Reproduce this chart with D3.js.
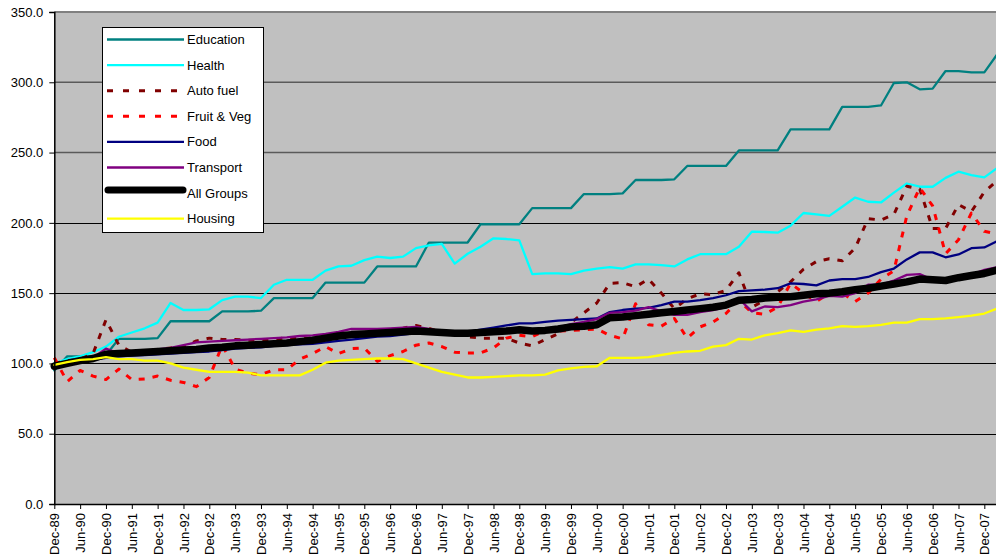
<!DOCTYPE html>
<html><head><meta charset="utf-8">
<script src="https://cdn.jsdelivr.net/npm/d3@7"></script>
<style>
body{margin:0;background:#fff}
text{font-family:Arial,"Liberation Sans",sans-serif}
</style>
</head><body>
<svg id="chart" width="996" height="560"></svg>
<script>
const quarters = ["Dec-89",
"Mar-90","Jun-90","Sep-90","Dec-90","Mar-91","Jun-91","Sep-91","Dec-91",
"Mar-92","Jun-92","Sep-92","Dec-92","Mar-93","Jun-93","Sep-93","Dec-93",
"Mar-94","Jun-94","Sep-94","Dec-94","Mar-95","Jun-95","Sep-95","Dec-95",
"Mar-96","Jun-96","Sep-96","Dec-96","Mar-97","Jun-97","Sep-97","Dec-97",
"Mar-98","Jun-98","Sep-98","Dec-98","Mar-99","Jun-99","Sep-99","Dec-99",
"Mar-00","Jun-00","Sep-00","Dec-00","Mar-01","Jun-01","Sep-01","Dec-01",
"Mar-02","Jun-02","Sep-02","Dec-02","Mar-03","Jun-03","Sep-03","Dec-03",
"Mar-04","Jun-04","Sep-04","Dec-04","Mar-05","Jun-05","Sep-05","Dec-05",
"Mar-06","Jun-06","Sep-06","Dec-06","Mar-07","Jun-07","Sep-07","Dec-07",
"Mar-08"];

const xTickLabels = ["Dec-89","Jun-90","Dec-90","Jun-91","Dec-91","Jun-92","Dec-92","Jun-93","Dec-93",
"Jun-94","Dec-94","Jun-95","Dec-95","Jun-96","Dec-96","Jun-97","Dec-97","Jun-98","Dec-98",
"Jun-99","Dec-99","Jun-00","Dec-00","Jun-01","Dec-01","Jun-02","Dec-02","Jun-03","Dec-03",
"Jun-04","Dec-04","Jun-05","Dec-05","Jun-06","Dec-06","Jun-07","Dec-07"];

const yTicks = [0,50,100,150,200,250,300,350];

const education = [95,
105,105,105,106, 117.5,117.5,117.5,118, 130,130,130,130, 137,137,137,137.5,
146.5,146.5,146.5,146.5, 157.5,157.5,157.5,157.5, 169,169,169,169, 186,186,186,186,
199,199,199,199, 210.5,210.5,210.5,210.5, 220.5,220.5,220.5,221, 230.5,230.5,230.5,231,
240.5,240.5,240.5,240.5, 251.5,251.5,251.5,251.5, 266.5,266.5,266.5,266.5, 282.5,282.5,282.5,283.5,
299.5,300,295,295.5, 308,308,307,307, 320];

const health = [100,
103,105,108,112, 119,122,125,129, 143,138,138,138.5, 145,147.5,147.5,146.5,
156,159.5,159.5,159.5, 166,169,169.5,173.5, 176,175,176,182, 184,185,171,178,
183,189,188.5,187.5, 163.5,164,164,163.5, 166,167.5,168.5,167.5, 170.5,170.5,170,169,
174,177.7,177.7,177.7, 183,193.7,193.5,193, 198,207,206,205, 211.5,218,215,214.5,
221.5,228,225.7,225.7, 232,236.4,234,232.4, 239];

const autoFuel = [100,
102,103,107,131, 113,108,109,110, 111,112,116,118, 117,117,116.5,116.5,
117,118.5,118,118, 119,120,121,122, 123,124,125,127, 125,122,121,119,
118,118,118,114.5, 112.5,117,121,129, 136,143,157,157.5, 154.5,160,150,139,
146,149.5,149,152, 164.5,140,145,151, 158,167,172.5,174.5, 173,182,203,202,
206,226,224,196, 196,213,208,222, 230];

const fruitVeg = [104,
87,95,91,88.5, 96,88.5,89,91, 88,86.5,83.5,90, 113,96,93,92,
95.5,95.5,103,107, 112,107,110.5,111, 101.5,105.5,108.5,113, 114.5,112,108,107.5,
107.5,111,118,120, 119,123.5,123,123.5, 124,124.5,120,117.5, 142.5,127.5,126.5,132,
118,126,129.5,135.5, 145,136,135,140, 157,150,144,150, 150,144,150,160,
166,205,225,212, 178,188,207,194, 192];

const food = [98,
100,101.5,102.5,104, 105,105.5,106,106.5, 107,107.5,108,108.5, 109.5,110.5,111,111.5,
112.5,113,113.5,114, 115,116,117,118, 119,119.5,120.5,121.5, 122,122,122,122.5,
124,125.5,127,128.5, 128.5,129.5,130.5,131, 131.5,132,136.5,138, 139,139.5,141.5,144,
144,145,146.5,148.5, 151.5,152,152.5,153.5, 157,156.5,155.5,159, 160,160,161.5,165,
167.5,174,179,179, 175.5,177.5,182,182.5, 187];

const transport = [98,
100.5,102.5,104,110.5, 107,107.5,109,110, 111,113,115,115.5, 116,116.5,117,117.5,
118,118.5,119.5,120, 121,122.5,124.5,124.5, 124.5,125,125.5,126, 124.5,122.5,121.5,121.5,
122,122.5,123,124, 123,124,125.5,128, 129.5,131.5,136,136.5, 137.5,140,137,134.5,
134.5,136.5,138,140, 146,137,140.5,140, 141.5,144,145.5,148, 147.5,150,156,156,
159,163,163.5,159.5, 159.5,162,163,166.5, 168.5];

const allGroups = [98,
100,102,103.5,106.5, 107,107.5,108,108.5, 109,109.5,110,111, 111.5,112.5,113,113.5,
114,114.5,115.5,116.5, 118,119.5,120.5,121, 121.5,122,122.5,123, 122.5,122,121.5,121.5,
122,122.5,123,124, 123,123.5,124.5,126, 126.5,127.5,132.5,133, 134,135,136,137,
138,139,140,141.5, 145,145.5,146.5,147, 147.5,148.5,149.5,150, 151,152.5,153.5,155,
156.5,158,160,159.5, 159,161,162.5,164, 166.5];

const housing = [99,
101,102.5,103,104.5, 103,103,102,102, 100,97,95.5,94, 94,94,93.5,91.5,
91.5,91.5,91.5,95.5, 100.5,102,102.5,103, 103.5,103.5,103,100, 97,94,92,90,
90,90.5,91,91.5, 91.5,92,95,96.5, 97.5,98,104,104, 104,104.5,106,107.5,
108.5,109,112,113, 117.5,117,120,121.5, 123.5,122.5,124,125, 126.5,126,126.5,127.5,
129,129,131.5,131.5, 132,133,134,135.5, 139];

const seriesNames = ["Education","Health","Auto fuel","Fruit & Veg","Food","Transport","All Groups","Housing"];
const seriesData = [education, health, autoFuel, fruitVeg, food, transport, allGroups, housing];
const seriesColors = ["#008080","#00FFFF","#800000","#FF0000","#000080","#800080","#000000","#FFFF00"];
const seriesWidths = [2.3,2.3,3,3,2.3,2.3,7.5,2.3];
const seriesDash = [null,null,"6,8","6,8",null,null,null,null];

(function(){
const svg = d3.select("#chart");
const plotLeft = 54.3, plotTop = 12, plotBottom = 504;
const x = d3.scaleLinear().domain([0, quarters.length - 1]).range([plotLeft, plotLeft + 12.917 * (quarters.length - 1)]);
const y = d3.scaleLinear().domain([0, 350]).range([plotBottom, plotTop]);

// plot area
svg.append("rect").attr("x", plotLeft).attr("y", plotTop).attr("width", 996 - plotLeft).attr("height", plotBottom - plotTop).attr("fill", "#C0C0C0");

// gridlines
const gridStyle = {350:["#808080",2],300:["#5a5a5a",1.6],250:["#5a5a5a",1.6]};
svg.append("g").selectAll("line").data(yTicks.filter(d => d > 0)).join("line")
  .attr("x1", plotLeft).attr("x2", 996)
  .attr("y1", d => gridStyle[d] ? y(d) : Math.round(y(d)) + 0.5)
  .attr("y2", d => gridStyle[d] ? y(d) : Math.round(y(d)) + 0.5)
  .attr("stroke", d => gridStyle[d] ? gridStyle[d][0] : "#000")
  .attr("stroke-width", d => gridStyle[d] ? gridStyle[d][1] : 1);

// lines
const line = d3.line().x((d, i) => x(i)).y(d => y(d));
const gLines = svg.append("g");
seriesData.forEach((vals, k) => {
  gLines.append("path").datum(vals)
    .attr("d", line)
    .attr("fill", "none")
    .attr("stroke", seriesColors[k])
    .attr("stroke-width", seriesWidths[k])
    .attr("stroke-linejoin", "round")
    .attr("stroke-linecap", seriesDash[k] ? "butt" : "round")
    .attr("stroke-dasharray", seriesDash[k]);
});

// axes
const yAxis = d3.axisLeft(y).tickValues(yTicks).tickFormat(d3.format(".1f")).tickSize(5).tickPadding(6);
const gy = svg.append("g").attr("transform", `translate(${plotLeft},0)`).call(yAxis);
gy.select(".domain").attr("stroke", "#000").attr("stroke-width", 1.5);
gy.selectAll(".tick line").attr("stroke", "#000");
gy.selectAll("text").attr("font-size", 13).attr("fill", "#000").attr("font-family", "Arial, 'Liberation Sans', sans-serif");

const xAxis = d3.axisBottom(x).tickValues(xTickLabels.map(l => quarters.indexOf(l)))
  .tickFormat(i => quarters[i]).tickSize(5).tickSizeOuter(0);
const gx = svg.append("g").attr("transform", `translate(0,${plotBottom})`).call(xAxis);
gx.select(".domain").attr("stroke", "#000").attr("stroke-width", 1.5);
gx.selectAll(".tick line").attr("stroke", "#000");
gx.selectAll("text")
  .attr("font-size", 13).attr("fill", "#000").attr("font-family", "Arial, 'Liberation Sans', sans-serif")
  .attr("transform", "rotate(-90)")
  .attr("text-anchor", "end")
  .attr("x", -9).attr("y", 0).attr("dy", "0.35em");

// legend
const lg = svg.append("g");
lg.append("rect").attr("x", 102.5).attr("y", 27.5).attr("width", 161).attr("height", 205)
  .attr("fill", "#fff").attr("stroke", "#000").attr("stroke-width", 1);
seriesNames.forEach((name, k) => {
  const cy = 39.5 + k * 25.6;
  const isAll = name === "All Groups";
  const ly = isAll ? cy - 3 : cy;
  lg.append("line")
    .attr("x1", isAll ? 108 : 107).attr("x2", isAll ? 183 : 184)
    .attr("y1", ly).attr("y2", ly)
    .attr("stroke", seriesColors[k])
    .attr("stroke-width", isAll ? 7 : (seriesDash[k] ? 3 : 2.3))
    .attr("stroke-linecap", isAll ? "round" : "butt")
    .attr("stroke-dasharray", seriesDash[k] ? "6,10" : null);
  lg.append("text").attr("x", 187).attr("y", cy).attr("dy", "0.35em")
    .attr("font-size", 13).attr("fill", "#000").text(name);
});
})();
</script>
</body></html>
